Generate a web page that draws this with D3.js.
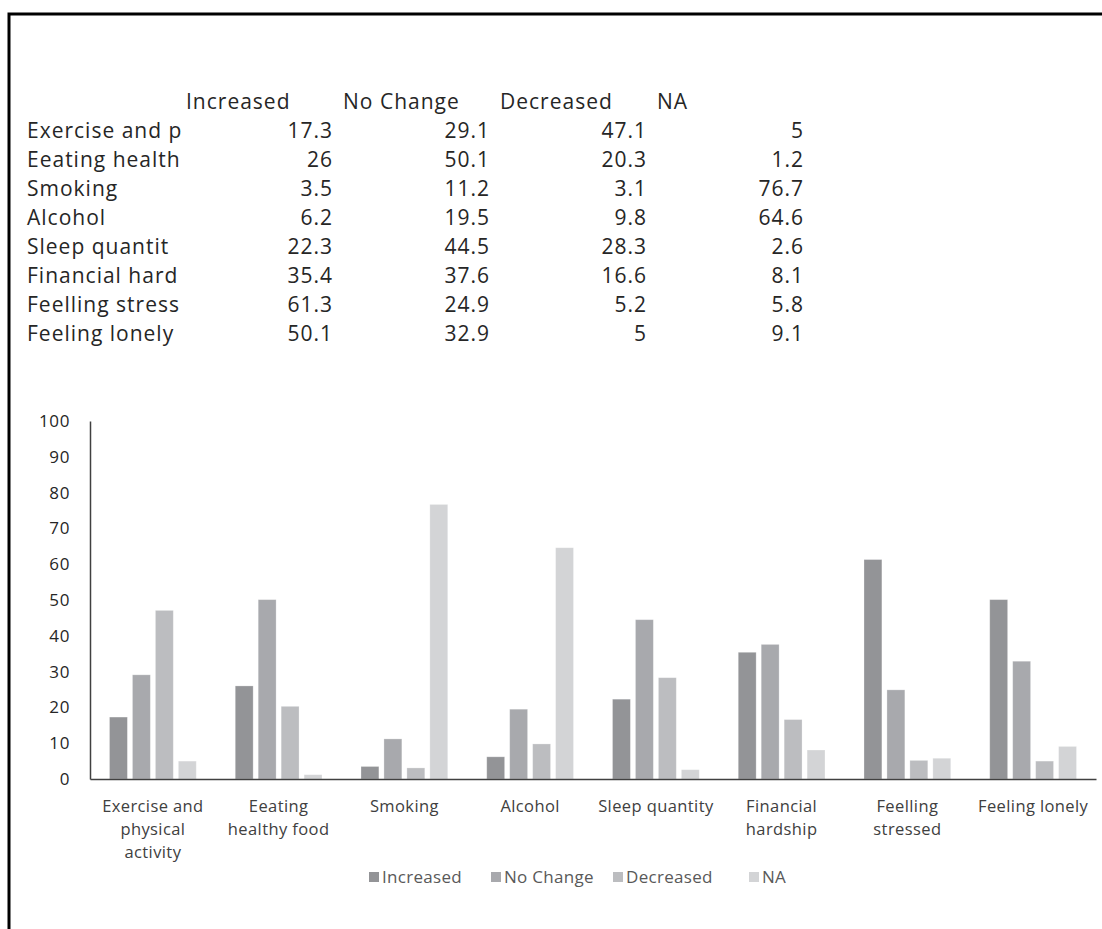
<!DOCTYPE html>
<meta charset="utf-8">
<head>
  <title>Health behaviour changes</title>
</head>

<style>
  body { margin: 0; background: #fff; }
  svg text { font-family: "Open Sans", Lato, sans-serif; }
</style>

<body>
  <svg width="1102" height="929"></svg>

  <script src="https://cdnjs.cloudflare.com/ajax/libs/d3/7.8.5/d3.min.js"></script>

  <script>
  // data
  var categories = ['Exercise and physical activity', 'Eeating healthy food', 'Smoking', 'Alcohol',
    'Sleep quantity', 'Financial hardship', 'Feelling stressed', 'Feeling lonely'];
  var rowLabels = ['Exercise and p', 'Eeating health', 'Smoking', 'Alcohol',
    'Sleep quantit', 'Financial hard', 'Feelling stress', 'Feeling lonely'];
  var seriesNames = ['Increased', 'No Change', 'Decreased', 'NA'];
  var increased = [17.3, 26, 3.5, 6.2, 22.3, 35.4, 61.3, 50.1];
  var noChange = [29.1, 50.1, 11.2, 19.5, 44.5, 37.6, 24.9, 32.9];
  var decreased = [47.1, 20.3, 3.1, 9.8, 28.3, 16.6, 5.2, 5];
  var na = [5, 1.2, 76.7, 64.6, 2.6, 8.1, 5.8, 9.1];
  var yTicks = [0, 10, 20, 30, 40, 50, 60, 70, 80, 90, 100];
  var colors = ['#939497', '#a8a9ad', '#bcbdc0', '#d3d4d6'];

  var series = [increased, noChange, decreased, na];

  var svg = d3.select('svg');

  // frame (top and left edge of the cropped sheet)
  svg.append('path')
    .attr('d', 'M9,929V14H1102')
    .attr('fill', 'none')
    .attr('stroke', '#000')
    .attr('stroke-width', 3);

  // ---- the spreadsheet table ----
  var colX = [181, 338, 495, 652, 809];
  var rowY = d3.scaleLinear().domain([0, 1]).range([109, 138]);

  svg.append('clipPath').attr('id', 'labclip')
    .append('rect').attr('x', 20).attr('y', 80).attr('width', 161).attr('height', 300);

  var table = svg.append('g')
    .style('font-size', '21px')
    .style('letter-spacing', '1px')
    .attr('fill', '#262626');

  table.selectAll('.hdr')
    .data(seriesNames)
    .enter().append('text')
    .attr('class', 'hdr')
    .attr('x', function(d, i) { return colX[i] + 5; })
    .attr('y', rowY(0))
    .text(function(d) { return d; });

  table.append('g').attr('clip-path', 'url(#labclip)')
    .selectAll('text')
    .data(rowLabels)
    .enter().append('text')
    .attr('x', 27)
    .attr('y', function(d, i) { return rowY(i + 1); })
    .text(function(d) { return d; });

  series.forEach(function(vals, s) {
    table.selectAll('.c' + s)
      .data(vals)
      .enter().append('text')
      .attr('class', 'c' + s)
      .attr('text-anchor', 'end')
      .attr('x', colX[s + 1] - 5)
      .attr('y', function(d, i) { return rowY(i + 1); })
      .text(function(d) { return d; });
  });

  // ---- the bar chart ----
  var x0 = d3.scaleBand().domain(categories).range([90, 1096])
    .paddingInner(0.31).paddingOuter(0.155);
  var x1 = d3.scaleBand().domain(d3.range(4)).range([0, x0.bandwidth()]).paddingInner(0.22);
  var y = d3.scaleLinear().domain([0, 100]).range([779, 421]);

  var rows = categories.map(function(c, i) {
    return series.map(function(vals) { return vals[i]; });
  });

  var groups = svg.append('g').selectAll('g')
    .data(rows)
    .enter().append('g')
    .attr('transform', function(d, i) { return 'translate(' + x0(categories[i]) + ',0)'; });

  groups.selectAll('rect')
    .data(function(d) { return d; })
    .enter().append('rect')
    .attr('x', function(d, i) { return x1(i); })
    .attr('y', function(d) { return y(d); })
    .attr('width', x1.bandwidth())
    .attr('height', function(d) { return y(0) - y(d); })
    .attr('fill', function(d, i) { return colors[i]; })
    .attr('stroke', '#fff')
    .attr('stroke-opacity', 0.35)
    .attr('stroke-width', 0.8);

  // y axis
  var yAxis = svg.append('g')
    .attr('transform', 'translate(90,0)')
    .call(d3.axisLeft(y).tickValues(yTicks).tickSize(0).tickPadding(20));
  yAxis.select('.domain').attr('stroke', '#404040').attr('stroke-width', 1.5);
  yAxis.selectAll('text').style('font-size', '17px').style('letter-spacing', '0.6px')
    .attr('fill', '#262626')
    .style('font-family', '"Open Sans", Lato, sans-serif');

  // x axis
  var xAxis = svg.append('g')
    .attr('transform', 'translate(0,' + y(0) + ')')
    .call(d3.axisBottom(x0).tickSize(0).tickFormat(''));
  xAxis.select('.domain').attr('stroke', '#404040').attr('stroke-width', 1.5);

  // wrapped category labels
  var wrapped = {
    'Exercise and physical activity': ['Exercise and', 'physical', 'activity'],
    'Eeating healthy food': ['Eeating', 'healthy food'],
    'Financial hardship': ['Financial', 'hardship'],
    'Feelling stressed': ['Feelling', 'stressed']
  };
  var xl = svg.append('g')
    .style('font-size', '16.5px')
    .style('letter-spacing', '0.4px')
    .attr('fill', '#404040')
    .attr('text-anchor', 'middle');
  categories.forEach(function(c) {
    var lines = wrapped[c] || [c];
    var t = xl.append('text')
      .attr('x', x0(c) + x0.bandwidth() / 2)
      .attr('y', 812);
    lines.forEach(function(l, k) {
      t.append('tspan')
        .attr('x', x0(c) + x0.bandwidth() / 2)
        .attr('dy', k === 0 ? 0 : 23)
        .text(l);
    });
  });

  // legend
  var legX = [369, 491, 613, 749];
  var leg = svg.append('g').style('font-size', '17px').style('letter-spacing', '0.3px');
  seriesNames.forEach(function(s, i) {
    leg.append('rect')
      .attr('x', legX[i]).attr('y', 872)
      .attr('width', 10).attr('height', 10)
      .attr('fill', colors[i]);
    leg.append('text')
      .attr('x', legX[i] + 13).attr('y', 883)
      .attr('fill', '#595959')
      .text(s);
  });
  </script>
</body>
</html>
